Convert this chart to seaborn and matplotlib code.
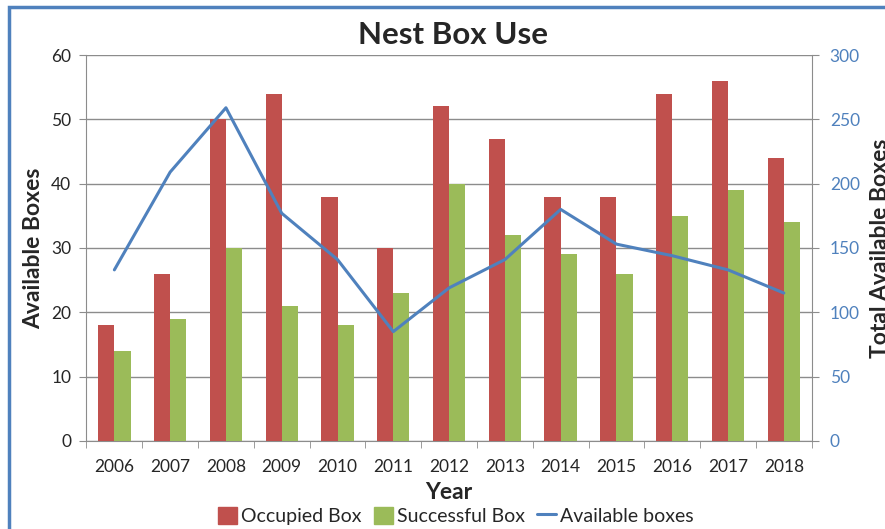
import numpy as np
import pandas as pd
import matplotlib
matplotlib.use("Agg")
import matplotlib.pyplot as plt
import matplotlib.patches as mpatches
import matplotlib.lines as mlines
import seaborn as sns

years = ["2006", "2007", "2008", "2009", "2010", "2011", "2012",
         "2013", "2014", "2015", "2016", "2017", "2018"]
occupied = [18, 26, 50, 54, 38, 30, 52, 47, 38, 38, 54, 56, 44]
successful = [14, 19, 30, 21, 18, 23, 40, 32, 29, 26, 35, 39, 34]
available = [133, 209, 259, 177, 141, 85, 119, 141, 180, 153, 144, 133, 115]

RED = "#C0504D"
GREEN = "#9BBB59"
BLUE = "#4F81BD"
GRID = "#8c8c8c"

sns.set_style("white")
plt.rcParams["font.family"] = ["Lato", "DejaVu Sans"]

bars = pd.DataFrame({
    "Year": years * 2,
    "Count": occupied + successful,
    "Series": ["Occupied Box"] * len(years) + ["Successful Box"] * len(years),
})

fig = plt.figure(figsize=(8.85, 5.29), dpi=100)
ax = fig.add_axes([0.0977, 0.1664, 0.8195, 0.7296])

sns.barplot(data=bars, x="Year", y="Count", hue="Series",
            palette=[RED, GREEN], width=0.58, saturation=1,
            edgecolor="none", ax=ax, legend=False, zorder=3)

ax.set_ylim(0, 60)
ax.set_yticks(range(0, 61, 10))
ax.set_xlim(-0.5, len(years) - 0.5)
ax.grid(axis="y", color=GRID, linewidth=1, zorder=0)
ax.set_axisbelow(True)
for side in ["left", "bottom", "right"]:
    ax.spines[side].set_color(GRID)
ax.spines["top"].set_visible(False)
ax.tick_params(axis="y", length=5, color=GRID, labelsize=12.5, pad=6, left=True)
ax.tick_params(axis="x", which="major", length=0, labelsize=12.5, pad=13)
ax.set_xticks(np.arange(len(years) + 1) - 0.5, minor=True)
ax.tick_params(axis="x", which="minor", length=5, color=GRID, bottom=True)
ax.set_xlabel("Year", fontsize=16.5, fontweight="bold", labelpad=5)
ax.set_ylabel("Available Boxes", fontsize=16.5, fontweight="bold", labelpad=5)

ax2 = ax.twinx()
sns.lineplot(x=np.arange(len(years)), y=available, color=BLUE,
             linewidth=2.2, ax=ax2)
ax2.set_ylim(0, 300)
ax2.set_yticks(range(0, 301, 50))
ax2.tick_params(axis="y", length=5, color=GRID, labelsize=12.5,
                labelcolor=BLUE, pad=8, right=True)
for side in ax2.spines:
    ax2.spines[side].set_visible(False)
ax2.set_ylabel("Total Available Boxes", fontsize=16.5, fontweight="bold",
               labelpad=7)
ax2.set_xlim(-0.5, len(years) - 0.5)

fig.suptitle("Nest Box Use", fontsize=22.5, fontweight="bold", x=0.512, y=0.96)

handles = [
    mpatches.Patch(color=RED, label="Occupied Box"),
    mpatches.Patch(color=GREEN, label="Successful Box"),
    mlines.Line2D([], [], color=BLUE, linewidth=2.2, label="Available boxes"),
]
fig.legend(handles=handles, loc="center", bbox_to_anchor=(0.515, 0.025),
           ncol=3, frameon=False, fontsize=14, handlelength=1.0,
           handleheight=1.0, handletextpad=0.2, columnspacing=0.6)

border = mpatches.Rectangle((9 / 885, -0.1), 1.2, 1 - 7 / 529 + 0.1,
                            transform=fig.transFigure, fill=False,
                            edgecolor=BLUE, linewidth=2.5)
fig.add_artist(border)

fig.savefig("out.png", dpi=100)
